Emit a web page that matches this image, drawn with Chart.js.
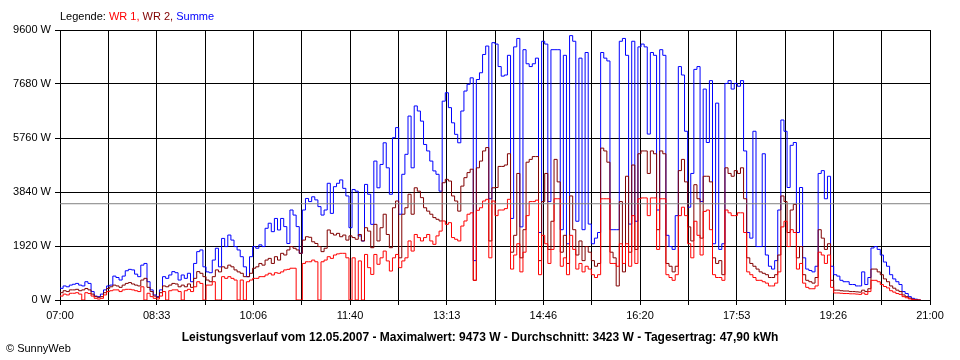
<!DOCTYPE html>
<html>
<head>
<meta charset="utf-8">
<script src="https://cdn.jsdelivr.net/npm/chart.js@4"></script>
<style>
  body { margin: 0; background: #fff; }
  #wrap { position: relative; width: 960px; height: 360px; font-family: "Liberation Sans", Arial, sans-serif; font-size: 11px; line-height: 13px; color: #000; }
  #chart { position: absolute; left: 0; top: 0; }
  #legend { position: absolute; left: 60px; top: 10px; white-space: nowrap; }
  #title { position: absolute; left: 0; top: 330px; width: 960px; text-align: center; font-weight: bold; font-size: 12px; line-height: 14px; white-space: nowrap; }
  #copy { position: absolute; left: 6px; top: 342px; }
</style>
</head>
<body>
<div id="wrap">
  <canvas id="chart" width="960" height="360"></canvas>
  <div id="legend">Legende: <span style="color:#ff0000">WR 1,</span> <span style="color:#800000">WR 2,</span> <span style="color:#0000ff">Summe</span></div>
  <div id="title">Leistungsverlauf vom 12.05.2007 - Maximalwert: 9473 W - Durchschnitt: 3423 W - Tagesertrag: 47,90 kWh</div>
  <div id="copy">&copy; SunnyWeb</div>
</div>
<script>
// Messwerte alle 3 Minuten ab 07:00
const stepMinutes = 3;
const timeLabels = ['07:00', '08:33', '10:06', '11:40', '13:13', '14:46', '16:20', '17:53', '19:26', '21:00'];
const yTicks = [0, 1920, 3840, 5760, 7680, 9600];
const average = 3423;

// WR 1 (rot)
const wr1 = [
  180,140,210,180,240,240,260,210,0,260,
  230,140,60,35,60,180,300,330,360,360,
  300,360,380,380,360,330,300,470,0,240,
  120,60,35,140,300,0,330,360,360,300,
  0,330,380,300,470,650,590,0,530,530,
  650,0,0,830,770,830,770,710,0,710,
  0,650,710,770,770,830,830,890,950,890,
  970,950,1000,1070,1090,1130,1130,0,0,1300,
  1360,1360,1420,1360,0,1360,1420,1540,1480,1600,
  1640,1660,1660,1500,0,1500,0,1390,0,1620,
  1150,910,1620,1270,1500,1740,1390,1030,1500,1620,
  1150,1390,1500,2100,1740,2330,2220,2100,2220,2330,
  2100,1980,2280,2450,2810,2690,2750,2220,2160,2100,
  2630,2810,3050,3100,700,3190,3280,3520,3580,1500,
  3520,3000,3200,3200,3250,3580,1100,1600,2000,1000,
  1700,3000,3500,3500,3550,900,2300,2000,1300,1800,
  3600,3600,1200,1500,900,2300,1800,1100,1300,1000,
  1200,1100,900,800,900,3600,3600,3600,1300,1300,
  1200,2000,1300,2000,1200,3000,1300,3600,3630,3630,
  3000,3630,3630,1800,3600,3600,900,800,700,900,
  3000,3300,3000,2000,1500,2800,2300,1600,3150,3200,
  2500,900,800,800,700,3200,3100,3000,3000,3100,
  3100,2400,1000,900,800,700,700,650,600,500,
  500,600,1000,2600,2800,1900,2500,2400,1100,1300,
  600,450,400,400,500,1700,1600,1300,1600,450,
  250,250,240,230,230,220,220,210,200,250,
  200,300,700,700,650,550,480,430,330,280,
  230,200,120,80,40,15,0,0,null,null,
  null
];

// WR 2 (dunkelrot)
const wr2 = [
  300,260,330,300,360,360,380,330,360,410,
  360,210,120,95,120,260,410,470,530,500,
  450,530,590,620,570,530,500,710,770,450,
  300,140,95,260,500,470,530,590,570,470,
  530,470,570,450,770,1010,950,830,710,650,
  830,1070,1000,1180,1130,1240,1180,1070,1000,950,
  830,830,950,1130,1180,1300,1240,1420,1480,1300,
  1540,1420,1660,1600,1780,1900,1840,1780,1660,2130,
  2250,2230,2070,2010,1900,1720,1840,2490,2370,2310,
  2370,2250,2310,2130,2280,2220,2160,2330,2100,2570,
  2450,1860,2690,2100,2570,3050,2330,1860,3280,3520,
  1500,3050,3280,3760,3050,3990,3870,3640,3280,3160,
  3050,2930,2870,2810,4170,4290,4230,3700,3520,3160,
  4050,4350,4530,4650,700,4700,4940,5300,5420,2100,
  3990,4000,4750,4750,4800,5200,1700,2300,4500,1500,
  2500,4900,5000,5100,5100,1400,3500,4500,1800,2800,
  5000,4200,1700,2300,1300,3700,2500,1600,2100,1400,
  1900,1700,1400,1200,1300,5400,5300,4900,1700,1500,
  500,3500,1000,4400,1700,4800,1800,5200,5300,5300,
  4500,5300,5200,2500,5300,5200,1300,1200,1000,1200,
  4600,5000,4200,2600,2100,4100,3600,2200,4400,4400,
  4200,1500,1300,1400,900,4700,4500,4400,4600,4500,
  4700,3600,1500,1300,1200,1100,1000,950,900,800,
  800,900,1600,3700,3500,2400,3200,3400,1500,1900,
  900,700,650,600,800,2500,2200,1800,2000,700,
  350,350,330,320,320,300,300,290,280,350,
  300,400,1100,1100,1000,900,750,650,500,420,
  350,300,180,120,70,30,10,0,null,null,
  null
];

// Summe (blau)
const summe = [
  470,415,500,470,530,560,590,530,500,650,
  590,300,140,120,210,360,500,530,850,800,
  710,850,1040,1090,1070,920,830,1240,1300,650,
  360,180,120,360,830,770,890,1010,970,710,
  890,770,950,650,1300,1720,1780,1180,1000,970,
  1420,1840,1180,2190,1900,2310,2130,1900,1780,1540,
  1180,830,1540,1900,1840,1960,1900,2550,2730,2430,
  2900,2490,2900,2610,2010,3200,3020,2610,1660,3200,
  3610,3500,3670,3560,3320,3020,3200,4150,3080,4030,
  4150,4270,3970,3700,2570,3930,3870,2280,2100,4110,
  3760,2690,4940,3990,4820,5590,4700,3760,5770,6130,
  3050,4470,5180,6540,4700,6900,6720,6360,5530,5300,
  4940,4590,4470,3870,7070,7370,6840,6300,5890,5590,
  6720,7430,7670,7900,1400,7840,8080,8730,9030,3600,
  9150,9100,8300,7960,8000,8700,2900,9000,9300,2600,
  8900,8400,8300,8400,8600,2400,9200,9100,3500,8900,
  8900,8900,2500,8700,2000,9400,9200,2800,8600,2500,
  8800,2700,2000,2200,2400,8800,8600,8500,2500,2500,
  2500,9200,9300,8700,2700,9200,2800,9000,9100,9000,
  5900,8800,8700,3200,8900,8700,2300,1900,1800,3000,
  8300,8000,6000,3300,4500,8200,8300,3500,7500,5600,
  7800,2000,7000,1800,2000,7700,7800,7500,7700,7600,
  7800,5300,2400,2200,6000,1900,1900,5200,1600,1200,
  1100,1400,3200,6400,6000,4000,5500,5600,2400,4000,
  1500,1100,1050,1000,1200,4500,4600,3600,4400,1200,
  900,850,700,650,650,550,550,500,500,1000,
  550,800,1850,1900,1800,1600,1350,1200,900,750,
  650,550,300,230,120,60,30,0,null,null,
  null
];

const gridCount = (timeLabels.length - 1) * 2;

function toPoints(arr) {
  return arr.map((v, i) => ({ x: i * stepMinutes, y: v }));
}

function lineSet(label, data, color) {
  return {
    label: label,
    data: data,
    borderColor: color,
    borderWidth: 1,
    pointRadius: 0,
    stepped: 'after',
    fill: false
  };
}

const tickFont = { family: 'Liberation Sans', size: 11 };

new Chart(document.getElementById('chart'), {
  type: 'line',
  data: {
    datasets: [
      lineSet('Durchschnitt', [{ x: 0, y: average }, { x: 840, y: average }], '#808080'),
      lineSet('WR 1', toPoints(wr1), '#ff0000'),
      lineSet('WR 2', toPoints(wr2), '#800000'),
      lineSet('Summe', toPoints(summe), '#0000ff')
    ]
  },
  options: {
    responsive: false,
    animation: false,
    layout: { padding: { left: 0, right: 30, top: 30, bottom: 30 } },
    plugins: { legend: { display: false }, tooltip: { enabled: false } },
    scales: {
      x: {
        type: 'linear',
        min: 0,
        max: 840,
        afterBuildTicks: function(scale) {
          const t = [];
          for (let k = 0; k <= gridCount; k++) t.push({ value: k * 840 / gridCount });
          scale.ticks = t;
        },
        afterFit: function(scale) { scale.height = 30; },
        ticks: {
          autoSkip: false,
          maxRotation: 0,
          padding: 4,
          color: '#000',
          font: tickFont,
          callback: function(value, index) {
            return index % 2 === 0 ? timeLabels[index / 2] : '';
          }
        },
        grid: { color: '#000', lineWidth: 1, tickLength: 5 },
        border: { color: '#000' }
      },
      y: {
        min: 0,
        max: 9600,
        afterBuildTicks: function(scale) {
          scale.ticks = yTicks.map(v => ({ value: v }));
        },
        afterFit: function(scale) { scale.width = 60; },
        ticks: {
          padding: 4,
          color: '#000',
          font: tickFont,
          callback: function(value) { return value + ' W'; }
        },
        grid: { color: '#000', lineWidth: 1, tickLength: 5 },
        border: { color: '#000' }
      }
    }
  }
});
</script>
</body>
</html>
